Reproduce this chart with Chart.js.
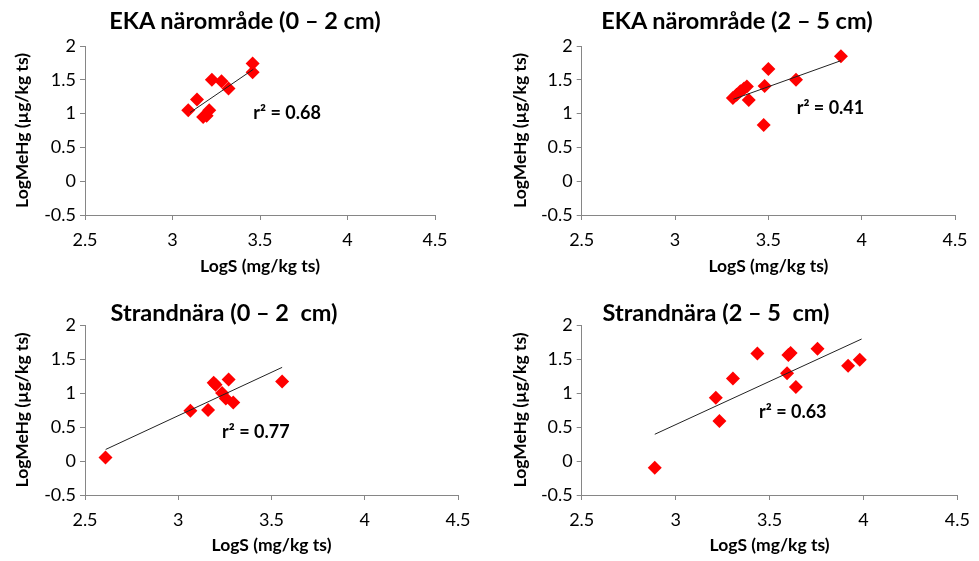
<!DOCTYPE html>
<html>
<head>
<meta charset="utf-8">
<script src="https://cdn.jsdelivr.net/npm/chart.js@4"></script>
<style>
  body { margin: 0; background: #fff; }
  #wrap { position: relative; width: 979px; height: 561px; overflow: hidden; }
  .box { position: absolute; }
  .title {
    position: absolute; font-family: Lato, sans-serif; font-weight: bold;
    font-size: 23.5px; line-height: 24px; white-space: pre; text-align: center;
    transform: translateX(-50%); color: #000;
  }
</style>
</head>
<body>
<div id="wrap">
  <div class="box" style="left:0;top:0;width:490px;height:280px"><canvas id="c1"></canvas></div>
  <div class="box" style="left:490px;top:0;width:489px;height:280px"><canvas id="c2"></canvas></div>
  <div class="box" style="left:0;top:280px;width:490px;height:281px"><canvas id="c3"></canvas></div>
  <div class="box" style="left:490px;top:280px;width:489px;height:281px"><canvas id="c4"></canvas></div>
  <div class="title" id="t1" style="left:245px;top:8px"></div>
  <div class="title" id="t2" style="left:737px;top:8px"></div>
  <div class="title" id="t3" style="left:224px;top:300px"></div>
  <div class="title" id="t4" style="left:716px;top:300px"></div>
</div>
<script>
// titlar och axlar
const titles = ['EKA närområde (0 – 2 cm)', 'EKA närområde (2 – 5 cm)',
                'Strandnära (0 – 2  cm)', 'Strandnära (2 – 5  cm)'];
const xTitle = 'LogS (mg/kg ts)';
const yTitle = 'LogMeHg (µg/kg ts)';
const xMin = 2.5, xMax = 4.5, xStep = 0.5;
const yMin = -0.5, yMax = 2, yStep = 0.5;
const r2Values = ['0.68', '0.41', '0.77', '0.63'];

// EKA närområde 0-2 cm
const eka02X = [3.09, 3.14, 3.175, 3.195, 3.21, 3.225, 3.28, 3.32, 3.458, 3.458];
const eka02Y = [1.05, 1.21, 0.95, 0.97, 1.05, 1.50, 1.48, 1.37, 1.74, 1.61];
const eka02TrendX = [3.10, 3.462];
const eka02TrendY = [1.015, 1.655];

// EKA närområde 2-5 cm
const eka25X = [3.31, 3.33, 3.35, 3.37, 3.385, 3.395, 3.48, 3.50, 3.475, 3.648, 3.889];
const eka25Y = [1.23, 1.28, 1.33, 1.37, 1.40, 1.20, 1.41, 1.66, 0.83, 1.50, 1.85];
const eka25TrendX = [3.3125, 3.889];
const eka25TrendY = [1.212, 1.783];

// Strandnära 0-2 cm
const str02X = [2.61, 3.065, 3.16, 3.19, 3.20, 3.235, 3.255, 3.27, 3.295, 3.557];
const str02Y = [0.05, 0.74, 0.75, 1.15, 1.12, 1.00, 0.92, 1.20, 0.86, 1.17];
const str02TrendX = [2.611, 3.557];
const str02TrendY = [0.17, 1.377];

// Strandnära 2-5 cm
const str25X = [2.889, 3.214, 3.233, 3.305, 3.435, 3.593, 3.60, 3.612, 3.64, 3.755, 3.918, 3.98];
const str25Y = [-0.10, 0.93, 0.59, 1.215, 1.58, 1.29, 1.56, 1.59, 1.09, 1.65, 1.40, 1.49];
const str25TrendX = [2.889, 3.99];
const str25TrendY = [0.393, 1.794];

const pts = (xs, ys) => xs.map((x, i) => ({ x, y: ys[i] }));

// r2-etikettens plats (i axelvärden) och panelernas marginaler
const panels = [
  { id: 'c1', xs: eka02X, ys: eka02Y, tx: eka02TrendX, ty: eka02TrendY, lab: [3.462, 1.0],
    yW: 85, xH: 65, top: 46, right: 55, yTitlePad: 12, xTitlePad: 3 },
  { id: 'c2', xs: eka25X, ys: eka25Y, tx: eka25TrendX, ty: eka25TrendY, lab: [3.652, 1.08],
    yW: 91.7, xH: 65, top: 46, right: 24, yTitlePad: 20, xTitlePad: 3 },
  { id: 'c3', xs: str02X, ys: str02Y, tx: str02TrendX, ty: str02TrendY, lab: [3.235, 0.43],
    yW: 85, xH: 66, top: 45, right: 32, yTitlePad: 12, xTitlePad: 5 },
  { id: 'c4', xs: str25X, ys: str25Y, tx: str25TrendX, ty: str25TrendY, lab: [3.444, 0.72],
    yW: 91.7, xH: 66, top: 45, right: 17.3, yTitlePad: 20, xTitlePad: 5 },
];

const axisGrey = '#868686';
const tickFont = { family: 'Lato', size: 18 };
const titleFont = { family: 'Lato', size: 17.5, weight: 'bold' };
const plain = v => String(Math.round(v * 10) / 10);

panels.forEach((p, i) => {
  document.getElementById('t' + (i + 1)).textContent = titles[i];

  const r2Label = {
    id: 'r2Label' + i,
    afterDatasetsDraw(chart) {
      const ctx = chart.ctx;
      const px = chart.scales.x.getPixelForValue(p.lab[0]);
      const py = chart.scales.y.getPixelForValue(p.lab[1]);
      ctx.save();
      ctx.font = 'bold 18px Lato';
      ctx.fillStyle = '#000';
      ctx.textAlign = 'left';
      ctx.textBaseline = 'middle';
      ctx.fillText('r² = ' + r2Values[i], px, py);
      ctx.restore();
    }
  };

  new Chart(document.getElementById(p.id), {
    type: 'scatter',
    data: {
      datasets: [{
        data: pts(p.xs, p.ys),
        pointStyle: 'rectRot',
        pointRadius: 7,
        backgroundColor: '#ff0000',
        borderColor: '#ff0000',
        borderWidth: 0,
        order: 2
      }, {
        type: 'line',
        data: pts(p.tx, p.ty),
        borderColor: '#222',
        borderWidth: 1,
        pointRadius: 0,
        fill: false,
        order: 1
      }]
    },
    options: {
      responsive: true,
      maintainAspectRatio: false,
      animation: false,
      events: [],
      layout: { padding: { top: p.top, right: p.right, bottom: 0, left: 0 } },
      plugins: { legend: { display: false }, tooltip: { enabled: false } },
      scales: {
        x: {
          type: 'linear', min: xMin, max: xMax,
          ticks: { stepSize: xStep, font: tickFont, color: '#000', padding: 9, callback: plain },
          grid: { drawOnChartArea: false, tickLength: 5, color: axisGrey },
          border: { color: axisGrey },
          title: { display: true, text: xTitle, font: titleFont, color: '#000',
                   padding: { top: 0, bottom: p.xTitlePad } },
          afterFit: s => { s.height = p.xH; }
        },
        y: {
          type: 'linear', min: yMin, max: yMax,
          ticks: { stepSize: yStep, font: tickFont, color: '#000', padding: 4, callback: plain },
          grid: { drawOnChartArea: false, tickLength: 5, color: axisGrey },
          border: { color: axisGrey },
          title: { display: true, text: yTitle, font: titleFont, color: '#000',
                   padding: { top: p.yTitlePad, bottom: 0 } },
          afterFit: s => { s.width = p.yW; }
        }
      }
    },
    plugins: [r2Label]
  });
});
</script>
</body>
</html>
